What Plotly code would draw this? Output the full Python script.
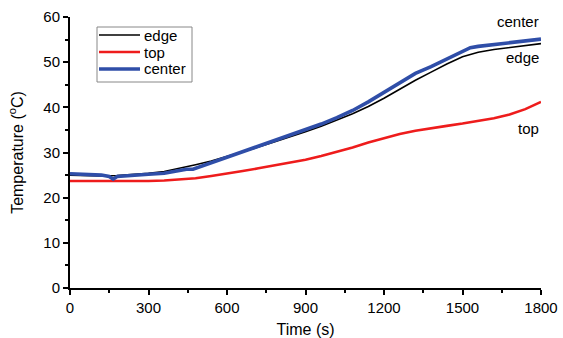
import plotly.graph_objects as go

t_edge = [0, 60, 120, 180, 240, 300, 360, 420, 480, 540, 600, 660, 720, 780, 840, 900,
          960, 1020, 1080, 1140, 1200, 1260, 1320, 1380, 1440, 1500, 1560, 1620, 1680, 1740, 1800]
edge = [25.0, 24.9, 24.8, 24.9, 25.1, 25.4, 25.8, 26.5, 27.3, 28.1, 29.1, 30.1, 31.2, 32.3, 33.4, 34.6,
        35.8, 37.2, 38.6, 40.2, 42.0, 44.0, 46.0, 47.8, 49.6, 51.2, 52.2, 52.8, 53.2, 53.7, 54.1]

t_top = t_edge
top = [23.7, 23.7, 23.6, 23.6, 23.7, 23.7, 23.8, 24.0, 24.3, 24.8, 25.3, 25.9, 26.5, 27.1, 27.7, 28.4,
       29.2, 30.1, 31.1, 32.2, 33.2, 34.1, 34.8, 35.4, 35.9, 36.4, 37.0, 37.6, 38.4, 39.6, 41.2]

t_center = [0, 60, 120, 150, 165, 180, 240, 300, 360, 420, 445, 470, 540, 600, 660, 720, 780, 840, 900,
            960, 1020, 1080, 1140, 1200, 1260, 1290, 1320, 1380, 1440, 1480, 1500, 1530, 1560, 1620, 1680, 1740, 1800]
center = [25.3, 25.2, 25.0, 24.7, 24.1, 24.7, 25.0, 25.2, 25.4, 25.9, 26.3, 26.3, 27.7, 29.0, 30.3, 31.4, 32.6, 33.8, 35.0,
          36.3, 37.7, 39.3, 41.2, 43.3, 45.3, 46.5, 47.5, 49.0, 50.6, 51.8, 52.4, 53.2, 53.5, 53.9, 54.3, 54.7, 55.1]

x_ticks = [0, 300, 600, 900, 1200, 1500, 1800]
y_ticks = [0, 10, 20, 30, 40, 50, 60]

series_names = ["edge", "top", "center"]
series_colors = ["#000000", "#ee1c1c", "#2f4ea8"]
series_widths = [1.6, 2.6, 3.6]

FONT = "Liberation Sans, Arial, sans-serif"

W, H = 563, 338
ML, MR, MT, MB = 70, 22, 17, 50
PW, PH = W - ML - MR, H - MT - MB


def px2paper(x, y):
    return (x - ML) / PW, (H - MB - y) / PH


fig = go.Figure()
for tx, ty, nm, col, wd in zip([t_edge, t_top, t_center], [edge, top, center],
                               series_names, series_colors, series_widths):
    fig.add_trace(go.Scatter(x=tx, y=ty, mode="lines", name=nm, showlegend=False,
                             line=dict(color=col, width=wd)))

# end-of-line labels
for txt, yv in [("center", 58.9), ("edge", 51.1), ("top", 35.4)]:
    fig.add_annotation(x=1800, y=yv, text=txt, showarrow=False, xanchor="right",
                       yanchor="middle", font=dict(size=15, color="#000", family=FONT))

# legend box (drawn manually for exact spacing)
bx0, by0 = px2paper(97, 82)
bx1, by1 = px2paper(192, 27)
fig.add_shape(type="rect", xref="paper", yref="paper", x0=bx0, y0=by0, x1=bx1, y1=by1,
              line=dict(color="#888", width=1), fillcolor="white", layer="above")
for i, (nm, col, wd) in enumerate(zip(series_names, series_colors, series_widths)):
    yy = 35 + 17 * i
    lx0, ly = px2paper(99, yy)
    lx1, _ = px2paper(140, yy)
    fig.add_shape(type="line", xref="paper", yref="paper", x0=lx0, x1=lx1, y0=ly, y1=ly,
                  line=dict(color=col, width=wd), layer="above")
    tx0, _ = px2paper(142, yy)
    fig.add_annotation(xref="paper", yref="paper", x=tx0, y=ly, text=nm, showarrow=False,
                       xanchor="left", yanchor="middle",
                       font=dict(size=15, color="#000", family=FONT))

axis_common = dict(showline=True, linecolor="#000", linewidth=2, ticks="outside", ticklen=5,
                   tickwidth=2, tickcolor="#000", showgrid=False, zeroline=False, mirror=False,
                   automargin=False,
                   tickfont=dict(size=15, color="#000", family=FONT))

fig.update_xaxes(range=[0, 1800], tickvals=x_ticks,
                 minor=dict(ticks="outside", ticklen=3, tickwidth=2, tickcolor="#000", dtick=150, tick0=0),
                 title=dict(text="Time (s)", font=dict(size=16, color="#000", family=FONT), standoff=9),
                 **axis_common)
fig.update_yaxes(range=[0, 60], tickvals=y_ticks,
                 minor=dict(ticks="outside", ticklen=3, tickwidth=2, tickcolor="#000", dtick=5, tick0=0),
                 title=dict(text="Temperature (<sup>o</sup>C)", font=dict(size=16, color="#000", family=FONT), standoff=16),
                 **axis_common)

fig.update_layout(
    width=W, height=H,
    margin=dict(l=ML, r=MR, t=MT, b=MB),
    paper_bgcolor="white", plot_bgcolor="white",
    font=dict(family=FONT, color="#000"),
    showlegend=False,
)

fig.write_html("out.html", config={"displayModeBar": False},
               post_script="document.body.style.margin='0';document.body.style.padding='0';document.body.style.overflow='hidden';")
